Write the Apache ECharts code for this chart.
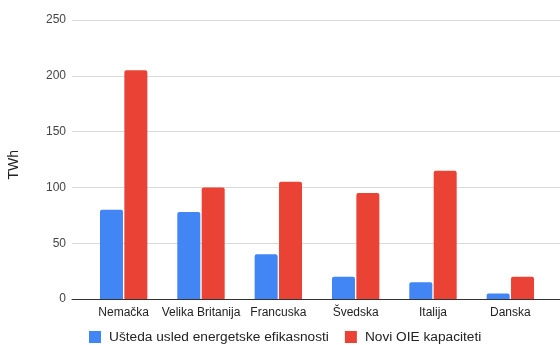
<!DOCTYPE html>
<html>
<head>
<meta charset="utf-8">
<script src="https://cdn.jsdelivr.net/npm/echarts@6/dist/echarts.min.js"></script>
<style>
  html, body { margin: 0; padding: 0; background: #fff; }
  #chart { width: 560px; height: 345px; }
</style>
</head>
<body>
<div id="chart"></div>
<script>
// Countries on the category axis
const countries = ['Nemačka', 'Velika Britanija', 'Francuska', 'Švedska', 'Italija', 'Danska'];
// Savings from energy efficiency (TWh)
const savings = [80, 78, 40, 20, 15, 5];
// New renewable capacity (TWh)
const renewables = [205, 100, 105, 95, 115, 20];
// Value axis ticks
const yTicks = [0, 50, 100, 150, 200, 250];
const seriesNames = ['Ušteda usled energetske efikasnosti', 'Novi OIE kapaciteti'];

const FONT = '"Liberation Sans", Arial, sans-serif';
const yMin = yTicks[0];
const yMax = yTicks[yTicks.length - 1];
const yStep = yTicks[1] - yTicks[0];

const chart = echarts.init(document.getElementById('chart'), null, { renderer: 'canvas' });

chart.setOption({
  animation: false,
  backgroundColor: '#ffffff',
  textStyle: { fontFamily: FONT },
  grid: [
    // full-width grid carrying the value axis, gridlines and baseline
    { left: 72, right: 0, top: 20, bottom: 46 },
    // inner grid where the bars sit
    { left: 85, right: 11, top: 20, bottom: 46 }
  ],
  xAxis: [
    {
      gridIndex: 0, type: 'category', data: countries,
      axisLine: { show: true, lineStyle: { color: '#333333', width: 1 } },
      axisTick: { show: false }, axisLabel: { show: false }, splitLine: { show: false }
    },
    {
      gridIndex: 1, type: 'category', data: countries,
      axisLine: { show: false }, axisTick: { show: false },
      axisLabel: { color: '#222222', fontSize: 12, fontFamily: FONT, margin: 8, interval: 0 }
    }
  ],
  yAxis: [
    {
      gridIndex: 0, type: 'value', min: yMin, max: yMax, interval: yStep,
      axisLine: { show: false }, axisTick: { show: false },
      axisLabel: { color: '#444444', fontSize: 12, fontFamily: FONT, margin: 6 },
      splitLine: { lineStyle: { color: '#d9d9d9', width: 1 } }
    },
    {
      gridIndex: 1, type: 'value', min: yMin, max: yMax, interval: yStep,
      show: false, splitLine: { show: false }
    }
  ],
  legend: {
    top: 330, left: 89, padding: 0,
    itemWidth: 12, itemHeight: 12, itemGap: 16,
    icon: 'rect',
    textStyle: { color: '#222222', fontSize: 13.7, fontFamily: FONT, padding: [0, 0, 0, 3] },
    data: seriesNames
  },
  graphic: [
    {
      type: 'text', left: 7, top: 150, rotation: Math.PI / 2,
      style: { text: 'TWh', fill: '#222222', font: '14px ' + FONT }
    }
  ],
  series: [
    {
      name: seriesNames[0], type: 'bar', xAxisIndex: 1, yAxisIndex: 1,
      data: savings, barWidth: 23, barGap: '6%',
      itemStyle: { color: '#4285f4', borderRadius: [2, 2, 0, 0] }
    },
    {
      name: seriesNames[1], type: 'bar', xAxisIndex: 1, yAxisIndex: 1,
      data: renewables, barWidth: 23, barGap: '6%',
      itemStyle: { color: '#ea4335', borderRadius: [2, 2, 0, 0] }
    }
  ]
});
</script>
</body>
</html>
